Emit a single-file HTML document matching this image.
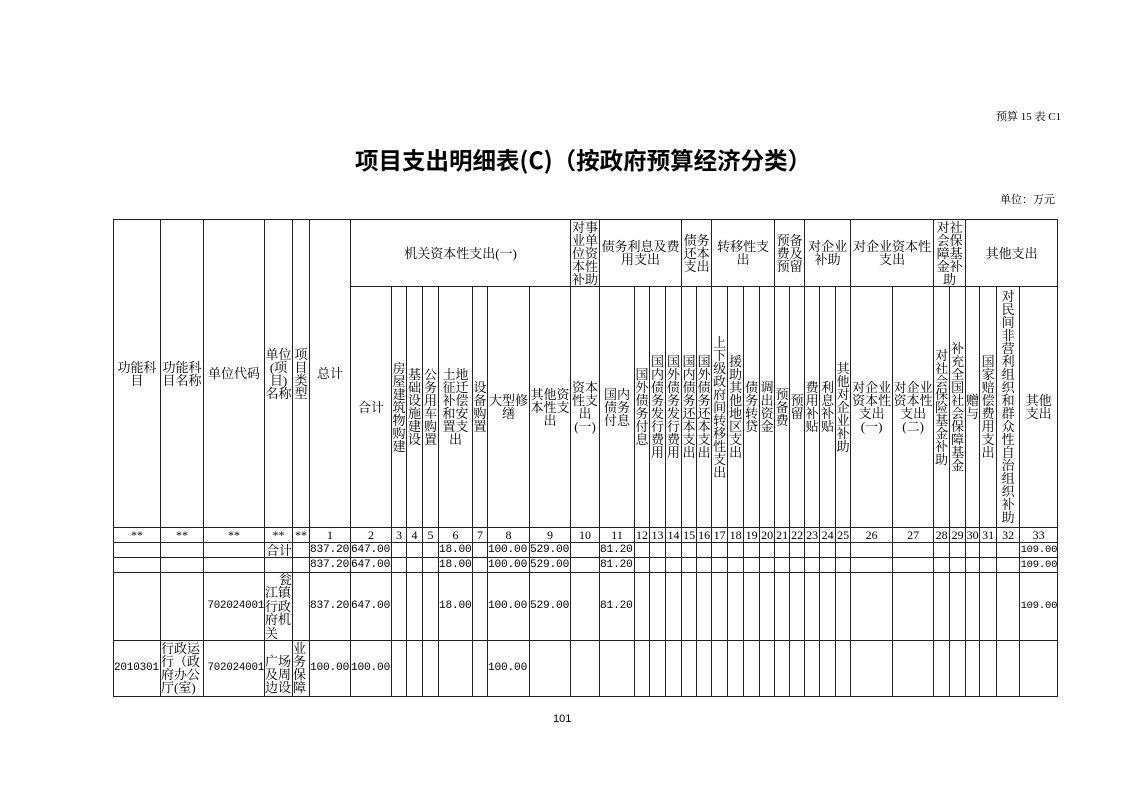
<!DOCTYPE html>
<html><head><meta charset="utf-8">
<style>
html,body{margin:0;padding:0;background:#fff;}
body{width:1122px;height:793px;position:relative;overflow:hidden;font-family:"Liberation Serif","Noto Serif CJK SC",serif;color:#000;}
.abs{position:absolute;white-space:nowrap;}
table{position:absolute;left:113px;top:219px;width:944px;border-collapse:collapse;table-layout:fixed;}
td{border:1px solid #222;padding:0;text-align:center;vertical-align:middle;font-size:13px;line-height:13px;word-break:break-all;overflow:hidden;}
tr.n td{font-size:12px;line-height:13px;height:14px;}
tr.d td{font-family:"Liberation Mono","Noto Serif CJK SC",monospace;font-size:11.2px;line-height:13px;text-align:left;white-space:nowrap;letter-spacing:-0.2px;}
td.r{text-align:right!important;}
.cj{font-family:"Liberation Serif","Noto Serif CJK SC",serif!important;font-size:13px!important;letter-spacing:0!important;}
.clip{overflow:hidden;white-space:normal;}
</style></head><body>
<div class="abs" style="left:996px;top:108px;font-size:11px;">预算 15 表 C1</div>
<div class="abs" style="left:355px;top:144px;font-size:23.5px;font-weight:bold;font-family:'Noto Sans CJK SC',sans-serif;line-height:30px;">项目支出明细表(C)（按政府预算经济分类）</div>
<div class="abs" style="left:1000px;top:191px;font-size:11px;">单位：万元</div>
<div class="abs" style="left:553px;top:713px;font-size:11px;font-family:'Liberation Sans',sans-serif;">101</div>
<table>
<colgroup>
<col style="width:47px"><col style="width:43px"><col style="width:61px"><col style="width:28px"><col style="width:17px"><col style="width:41px">
<col style="width:41px"><col style="width:15px"><col style="width:16px"><col style="width:16px"><col style="width:34px"><col style="width:15px"><col style="width:42px"><col style="width:41px">
<col style="width:29px">
<col style="width:35px"><col style="width:15px"><col style="width:16px"><col style="width:16px">
<col style="width:15px"><col style="width:15px">
<col style="width:16px"><col style="width:16px"><col style="width:16px"><col style="width:15px">
<col style="width:15px"><col style="width:15px">
<col style="width:15px"><col style="width:16px"><col style="width:15px">
<col style="width:42px"><col style="width:41px">
<col style="width:16px"><col style="width:16px">
<col style="width:14px"><col style="width:17px"><col style="width:23px"><col style="width:38px">
</colgroup>
<tr style="height:67px">
<td rowspan="2">功能科目</td><td rowspan="2">功能科目名称</td><td rowspan="2">单位代码</td><td rowspan="2">单位(项目)名称</td><td rowspan="2">项目类型</td><td rowspan="2">总计</td>
<td colspan="8">机关资本性支出(一)</td>
<td>对事业单位资本性补助</td>
<td colspan="4">债务利息及费用支出</td>
<td colspan="2">债务还本支出</td>
<td colspan="4">转移性支出</td>
<td colspan="2">预备费及预留</td>
<td colspan="3">对企业补助</td>
<td colspan="2">对企业资本性支出</td>
<td colspan="2">对社会保障基金补助</td>
<td colspan="4">其他支出</td>
</tr>
<tr style="height:241px">
<td>合计</td><td>房屋建筑物购建</td><td>基础设施建设</td><td>公务用车购置</td><td>土地征迁补偿和安置支出</td><td>设备购置</td><td>大型修缮</td><td>其他资本性支出</td>
<td>资本性支出(一)</td>
<td>国内债务付息</td><td>国外债务付息</td><td>国内债务发行费用</td><td>国外债务发行费用</td>
<td>国内债务还本支出</td><td>国外债务还本支出</td>
<td>上下级政府间转移性支出</td><td>援助其他地区支出</td><td>债务转贷</td><td>调出资金</td>
<td>预备费</td><td>预留</td>
<td>费用补贴</td><td>利息补贴</td><td>其他对企业补助</td>
<td>对企业资本性支出(一)</td><td>对企业资本性支出(二)</td>
<td>对社会保险基金补助</td><td>补充全国社会保障基金</td>
<td>赠与</td><td>国家赔偿费用支出</td><td>对民间非营利组织和群众性自治组织补助</td><td>其他支出</td>
</tr>
<tr class="n"><td>**</td><td>**</td><td>**</td><td>**</td><td>**</td><td>1</td><td>2</td><td>3</td><td>4</td><td>5</td><td>6</td><td>7</td><td>8</td><td>9</td><td>10</td><td>11</td><td>12</td><td>13</td><td>14</td><td>15</td><td>16</td><td>17</td><td>18</td><td>19</td><td>20</td><td>21</td><td>22</td><td>23</td><td>24</td><td>25</td><td>26</td><td>27</td><td>28</td><td>29</td><td>30</td><td>31</td><td>32</td><td>33</td></tr>
<tr class="d" style="height:15px"><td></td><td></td><td></td><td class="r cj">合计</td><td></td><td>837.20</td><td>647.00</td><td></td><td></td><td></td><td>18.00</td><td></td><td>100.00</td><td>529.00</td><td></td><td>81.20</td><td></td><td></td><td></td><td></td><td></td><td></td><td></td><td></td><td></td><td></td><td></td><td></td><td></td><td></td><td></td><td></td><td></td><td></td><td></td><td></td><td></td><td class="r" style="font-size:10.5px">109.00</td></tr>
<tr class="d" style="height:15px"><td></td><td></td><td></td><td></td><td></td><td>837.20</td><td>647.00</td><td></td><td></td><td></td><td>18.00</td><td></td><td>100.00</td><td>529.00</td><td></td><td>81.20</td><td></td><td></td><td></td><td></td><td></td><td></td><td></td><td></td><td></td><td></td><td></td><td></td><td></td><td></td><td></td><td></td><td></td><td></td><td></td><td></td><td></td><td class="r" style="font-size:10.5px">109.00</td></tr>
<tr class="d" style="height:68px"><td></td><td></td><td class="r" style="font-size:10.8px">702024001</td><td class="cj"><div class="clip" style="height:67px;line-height:13.4px"><div style="text-align:right">瓮</div>江镇<br>行政<br>府机<br>关</div></td><td></td><td>837.20</td><td>647.00</td><td></td><td></td><td></td><td>18.00</td><td></td><td>100.00</td><td>529.00</td><td></td><td>81.20</td><td></td><td></td><td></td><td></td><td></td><td></td><td></td><td></td><td></td><td></td><td></td><td></td><td></td><td></td><td></td><td></td><td></td><td></td><td></td><td></td><td></td><td class="r" style="font-size:10.5px">109.00</td></tr>
<tr class="d" style="height:56px"><td style="font-size:11px">2010301</td><td class="cj"><div class="clip" style="height:54px;text-align:left">行政运<br>行（政<br>府办公<br>厅(室)</div></td><td class="r" style="font-size:10.8px">702024001</td><td class="cj"><div class="clip" style="height:54px"><br>广场<br>及周<br>边设</div></td><td class="cj"><div class="clip" style="height:54px">业务保障</div></td><td>100.00</td><td>100.00</td><td></td><td></td><td></td><td></td><td></td><td>100.00</td><td></td><td></td><td></td><td></td><td></td><td></td><td></td><td></td><td></td><td></td><td></td><td></td><td></td><td></td><td></td><td></td><td></td><td></td><td></td><td></td><td></td><td></td><td></td><td></td><td></td></tr>
</table>
</body></html>
